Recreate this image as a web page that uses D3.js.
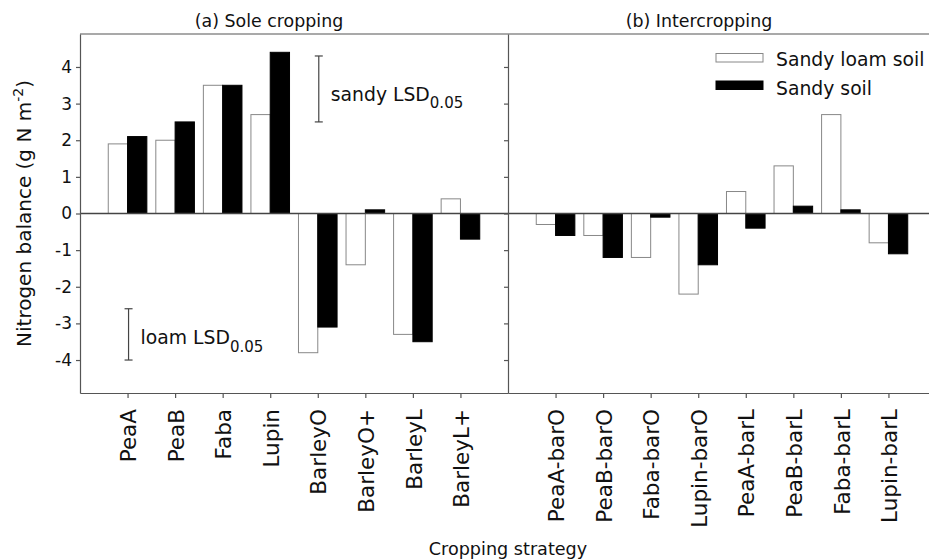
<!DOCTYPE html>
<html>
<head>
<meta charset="utf-8">
<script src="https://cdn.jsdelivr.net/npm/d3@7"></script>
<style>
  body { margin: 0; background: #fff; }
  svg { display: block; font-family: "DejaVu Sans", sans-serif; }
</style>
</head>
<body>
<div id="chart"></div>
<script>
// categories for both panels
var soleCats = ["PeaA", "PeaB", "Faba", "Lupin", "BarleyO", "BarleyO+", "BarleyL", "BarleyL+"];
var interCats = ["PeaA-barO", "PeaB-barO", "Faba-barO", "Lupin-barO", "PeaA-barL", "PeaB-barL", "Faba-barL", "Lupin-barL"];

// nitrogen balance (g N m-2)
var soleLoam = [1.9, 2.0, 3.5, 2.7, -3.8, -1.4, -3.3, 0.4];
var soleSandy = [2.1, 2.5, 3.5, 4.4, -3.1, 0.1, -3.5, -0.7];
var interLoam = [-0.3, -0.6, -1.2, -2.2, 0.6, 1.3, 2.7, -0.8];
var interSandy = [-0.6, -1.2, -0.1, -1.4, -0.4, 0.2, 0.1, -1.1];

var yTicks = [-4, -3, -2, -1, 0, 1, 2, 3, 4];
var seriesNames = ["Sandy loam soil", "Sandy soil"];

// LSD bars: name, top, bottom, category it sits at
var lsdNames = ["sandy", "loam"];
var lsdTop = [4.3, -2.6];
var lsdBottom = [2.5, -4.0];
var lsdCat = ["BarleyO", "PeaA"];

var width = 929, height = 560;
var plotL = 80, plotMid = 508, plotR = 936, plotT = 34, plotB = 393;

var svg = d3.select("#chart").append("svg")
  .attr("width", width)
  .attr("height", height);

var y = d3.scaleLinear().domain([-4.9, 4.9]).range([plotB, plotT]);
var xSole = d3.scalePoint().domain(soleCats).range([plotL, plotMid]).padding(1);
var xInter = d3.scalePoint().domain(interCats).range([plotMid, plotR]).padding(1);
var xSub = d3.scaleBand().domain([0, 1]).range([-19.3, 19.3]);

var axisColor = "#555";

// frame: top line
svg.append("line")
  .attr("x1", plotL).attr("x2", plotR)
  .attr("y1", plotT).attr("y2", plotT)
  .attr("stroke", axisColor).attr("stroke-width", 1.2);

// bars
function drawBars(x, cats, loam, sandy) {
  var rows = cats.map(function (c, i) { return { cat: c, vals: [loam[i], sandy[i]] }; });
  var g = svg.append("g");
  rows.forEach(function (d) {
    d.vals.forEach(function (v, k) {
      g.append("rect")
        .attr("x", x(d.cat) + xSub(k))
        .attr("y", Math.min(y(v), y(0)))
        .attr("width", xSub.bandwidth())
        .attr("height", Math.abs(y(v) - y(0)))
        .attr("fill", k == 0 ? "#fff" : "#000")
        .attr("stroke", k == 0 ? "#888" : "#000")
        .attr("stroke-width", 1);
    });
  });
}
drawBars(xSole, soleCats, soleLoam, soleSandy);
drawBars(xInter, interCats, interLoam, interSandy);

// zero line
svg.append("line")
  .attr("x1", plotL).attr("x2", plotR)
  .attr("y1", y(0)).attr("y2", y(0))
  .attr("stroke", "#444").attr("stroke-width", 1.3);

// y axes (plain hyphen for negatives, like the original)
var yAxis = svg.append("g")
  .attr("transform", "translate(" + plotL + ",0)")
  .call(d3.axisLeft(y).tickValues(yTicks).tickSize(4).tickSizeOuter(0).tickPadding(4)
    .tickFormat(function (d) { return String(d); }));
yAxis.selectAll("text").attr("font-size", 17).attr("fill", "#111").attr("font-family", "DejaVu Sans");

var yAxis2 = svg.append("g")
  .attr("transform", "translate(" + plotMid + ",0)")
  .call(d3.axisLeft(y).tickValues(yTicks).tickSize(4).tickSizeOuter(0).tickFormat(""));

// x axes
function xAxis(x) {
  var g = svg.append("g")
    .attr("transform", "translate(0," + plotB + ")")
    .call(d3.axisBottom(x).tickSize(5).tickSizeOuter(0));
  g.selectAll("text")
    .attr("transform", "rotate(-90)")
    .attr("text-anchor", "end")
    .attr("x", -16)
    .attr("y", 0)
    .attr("dy", "0.38em")
    .attr("font-size", 21.5)
    .attr("font-family", "DejaVu Sans")
    .attr("fill", "#111");
  return g;
}
xAxis(xSole);
xAxis(xInter);

svg.selectAll(".domain, .tick line").attr("stroke", axisColor).attr("stroke-width", 1.2);

// LSD bars
lsdNames.forEach(function (n, i) {
  var cx = xSole(lsdCat[i]) + 1;
  var g = svg.append("g").attr("stroke", "#444").attr("stroke-width", 1.2);
  g.append("line").attr("x1", cx).attr("x2", cx).attr("y1", y(lsdTop[i])).attr("y2", y(lsdBottom[i]));
  g.append("line").attr("x1", cx - 4).attr("x2", cx + 4).attr("y1", y(lsdTop[i])).attr("y2", y(lsdTop[i]));
  g.append("line").attr("x1", cx - 4).attr("x2", cx + 4).attr("y1", y(lsdBottom[i])).attr("y2", y(lsdBottom[i]));

  var midVal = (lsdTop[i] + lsdBottom[i]) / 2;
  var t = svg.append("text")
    .attr("x", cx + 12)
    .attr("y", y(midVal) + (i == 0 ? 12 : 10))
    .attr("font-size", 18.8)
    .attr("fill", "#111");
  t.append("tspan").text(n + " LSD");
  t.append("tspan").attr("dy", 7.5).attr("font-size", 15).text("0.05");
});

// legend
seriesNames.forEach(function (s, i) {
  svg.append("rect")
    .attr("x", 716).attr("y", 53.5 + i * 27.5)
    .attr("width", 47).attr("height", 8.5)
    .attr("fill", i == 0 ? "#fff" : "#000")
    .attr("stroke", i == 0 ? "#888" : "#000");
  svg.append("text")
    .attr("x", 776).attr("y", 66 + i * 28.5)
    .attr("font-size", 18.8)
    .attr("fill", "#111")
    .text(s);
});

// panel titles
svg.append("text").attr("x", 269).attr("y", 27).attr("text-anchor", "middle")
  .attr("font-size", 17.4).attr("fill", "#111").text("(a) Sole cropping");
svg.append("text").attr("x", 699).attr("y", 27).attr("text-anchor", "middle")
  .attr("font-size", 17.4).attr("fill", "#111").text("(b) Intercropping");

// axis titles
svg.append("text").attr("x", plotMid).attr("y", 555).attr("text-anchor", "middle")
  .attr("font-size", 17.6).attr("fill", "#111").text("Cropping strategy");

var yl = svg.append("text")
  .attr("transform", "translate(31," + y(0) + ") rotate(-90)")
  .attr("text-anchor", "middle")
  .attr("font-size", 20)
  .attr("fill", "#111");
yl.append("tspan").text("Nitrogen balance (g N m");
yl.append("tspan").attr("dy", -8).attr("font-size", 14).text("-2");
yl.append("tspan").attr("dy", 8).text(")");
</script>
</body>
</html>
